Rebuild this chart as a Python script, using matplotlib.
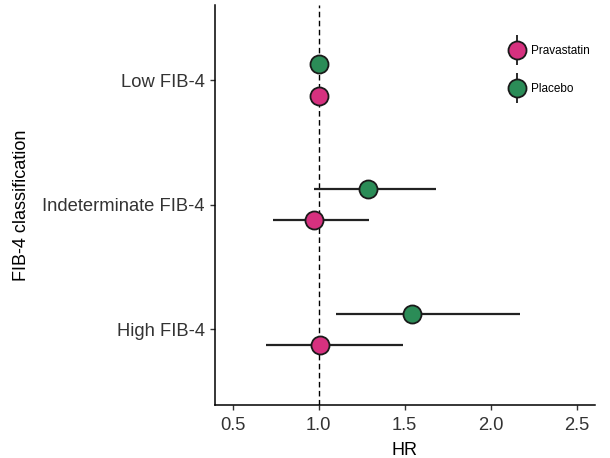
import matplotlib.pyplot as plt
import matplotlib.lines as mlines
from matplotlib.legend_handler import HandlerTuple
import numpy as np

plt.rcParams['font.family'] = ['Liberation Sans', 'DejaVu Sans']

# data ------------------------------------------------------------
groups = ["High FIB-4", "Indeterminate FIB-4", "Low FIB-4"]
prava_hr = [1.01, 0.973, 1.0]
prava_lo = [0.694, 0.733, np.nan]
prava_hi = [1.49, 1.29, np.nan]
plac_hr = [1.54, 1.285, 1.0]
plac_lo = [1.103, 0.973, np.nan]
plac_hi = [2.17, 1.68, np.nan]

pink = "#D6317F"
green = "#2B8C57"
dark = "#1a1a1a"

fig = plt.figure(figsize=(6.1, 4.58), dpi=100)
ax = fig.add_axes([0.352, 0.1157, 0.623, 0.873])

y = np.arange(1, len(groups) + 1)
dodge = 0.125

def draw(hr, lo, hi, ypos, col):
    hr = np.array(hr); lo = np.array(lo); hi = np.array(hi)
    ok = ~np.isnan(lo)
    ax.hlines(ypos[ok], lo[ok], hi[ok], color="#222222", lw=1.6, zorder=2)
    ax.plot(hr, ypos, "o", ms=13, mfc=col, mec=dark, mew=1.3,
            ls="none", zorder=3)

draw(prava_hr, prava_lo, prava_hi, y - dodge, pink)
draw(plac_hr, plac_lo, plac_hi, y + dodge, green)

ax.axvline(1.0, color="black", ls=(0, (4, 2.5)), lw=1, zorder=1)

ax.set_xlim(0.395, 2.605)
ax.set_ylim(0.394, 3.6)
ax.set_xticks([0.5, 1.0, 1.5, 2.0, 2.5])
ax.set_yticks(y)
ax.set_yticklabels(groups)
ax.tick_params(labelsize=13.2, colors="#333333", length=3.5, width=1)
ax.tick_params(axis="x", pad=5)
for s in ["top", "right"]:
    ax.spines[s].set_visible(False)
for s in ["left", "bottom"]:
    ax.spines[s].set_linewidth(1.1)
ax.set_xlabel("HR", fontsize=13, labelpad=6)
ax.set_ylabel("FIB-4 classification", fontsize=13, labelpad=9)

def handle(col):
    bar = mlines.Line2D([], [], color=dark, lw=0, marker="|", ms=22, mew=1.3)
    dot = mlines.Line2D([], [], lw=0, marker="o", ms=13, mfc=col, mec=dark, mew=1.3)
    return (bar, dot)

ax.legend([handle(pink), handle(green)], ["Pravastatin", "Placebo"],
          handler_map={tuple: HandlerTuple(ndivide=1)},
          loc="upper left", bbox_to_anchor=(0.757, 0.915), frameon=False,
          fontsize=8.5, handlelength=1.4, labelspacing=2.2, handletextpad=0.5,
          borderpad=0)

fig.savefig("out.png", dpi=100)
